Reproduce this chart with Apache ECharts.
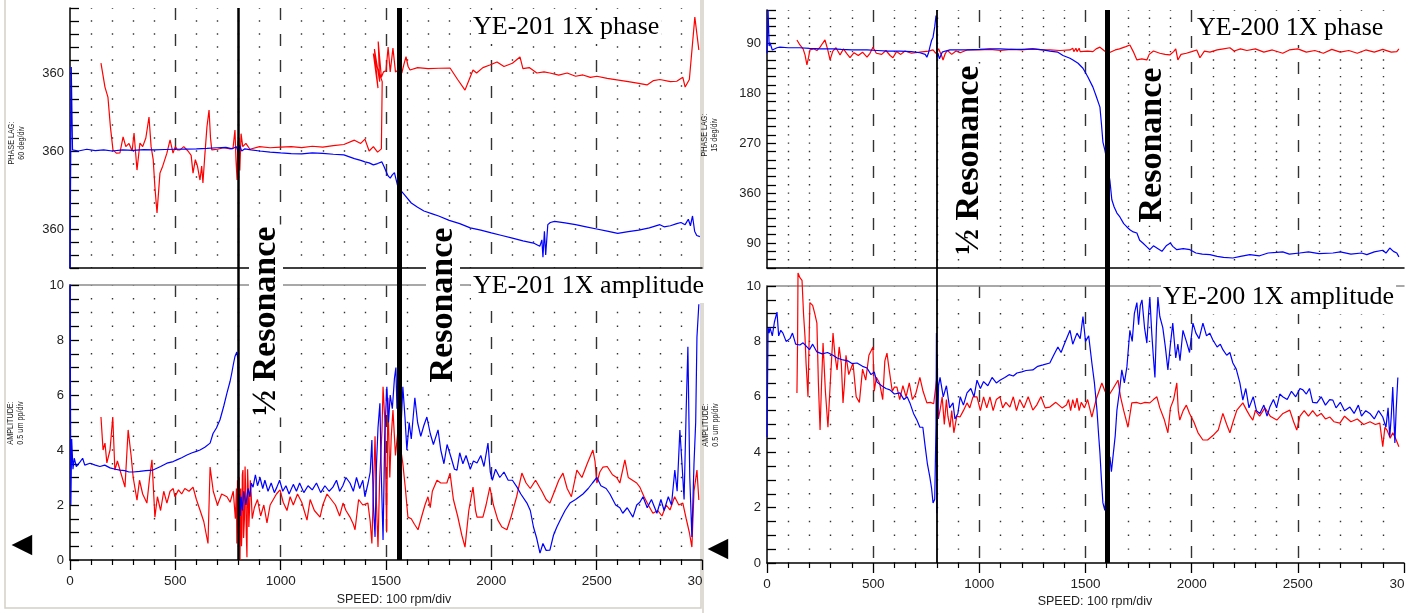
<!DOCTYPE html>
<html><head><meta charset="utf-8">
<script src="https://cdn.jsdelivr.net/npm/echarts@6/dist/echarts.min.js"></script>
<style>html,body{margin:0;padding:0;background:#fff}#c{width:1413px;height:613px}</style>
</head><body><div id="c"></div>
<script>
// ---------------- DATA ----------------
// speed axis (rpm)
const speedMin = 0, speedMax = 3000, speedStep = 500;
// resonance marker speeds
const resonanceLeft = [800, 1562];
const resonanceRight = [800, 1603];
// titles
const titleLeftPhase = 'YE-201 1X phase';
const titleLeftAmp = 'YE-201 1X amplitude';
const titleRightPhase = 'YE-200 1X phase';
const titleRightAmp = 'YE-200 1X amplitude';

// Left (YE-201) phase lag, degrees (unwrapped scale)
const leftPhaseBlue = [[0,0],[6,928],[12,545],[40,540],[80,548],[120,542],[160,545],[200,540],[250,545],[300,543],[350,546],[400,545],[450,547],[500,548],[550,549],[600,550],[650,552],[700,555],[740,557],[770,550],[790,560],[800,530],[805,565],[815,540],[830,550],[860,545],[900,540],[950,535],[1000,531],[1050,528],[1100,527],[1150,531],[1200,529],[1250,525],[1300,522],[1330,512],[1350,505],[1380,497],[1400,490],[1420,485],[1440,476],[1460,482],[1480,490],[1490,470],[1500,447],[1510,425],[1520,415],[1530,430],[1540,440],[1550,400],[1560,360],[1575,352],[1590,335],[1620,300],[1650,280],[1680,263],[1720,250],[1750,240],[1800,220],[1850,205],[1900,185],[1950,175],[2000,162],[2050,150],[2100,138],[2150,125],[2200,115],[2230,100],[2240,130],[2245,50],[2252,170],[2258,60],[2268,200],[2280,210],[2300,215],[2350,208],[2400,200],[2450,190],[2500,180],[2550,170],[2600,160],[2650,168],[2700,175],[2750,185],[2800,200],[2820,190],[2850,195],[2880,205],[2900,210],[2920,200],[2935,225],[2945,195],[2955,240],[2965,170],[2975,150],[2990,145]];
const leftPhaseRed = [[147,946],[166,835],[180,789],[192,650],[204,545],[220,530],[237,531],[252,605],[265,560],[280,575],[295,540],[304,623],[318,452],[332,577],[345,560],[360,600],[375,697],[385,560],[395,500],[403,374],[413,254],[427,438],[440,470],[450,500],[460,530],[475,591],[489,530],[500,560],[510,545],[522,545],[540,560],[560,540],[575,520],[584,438],[595,500],[605,470],[617,406],[625,470],[631,392],[640,520],[650,651],[660,729],[667,600],[673,545],[700,548],[730,555],[760,550],[774,554],[783,637],[788,500],[793,406],[797,580],[802,600],[806,450],[812,620],[820,560],[835,575],[854,548],[900,560],[950,555],[1000,558],[1050,560],[1100,556],[1150,562],[1200,558],[1250,565],[1300,570],[1350,590],[1380,575],[1400,595],[1420,540],[1440,560],[1460,535],[1478,550],[1482,860],[1450,950],[1462,830],[1440,990],[1455,880],[1445,1010],[1470,860],[1463,1045],[1478,880],[1488,905],[1500,910],[1510,1020],[1520,905],[1533,1015],[1545,905],[1560,915],[1575,900],[1585,940],[1595,975],[1605,930],[1614,914],[1650,925],[1700,920],[1750,922],[1804,923],[1840,870],[1875,821],[1895,870],[1913,914],[1930,900],[1960,925],[1993,937],[2027,951],[2060,930],[2100,945],[2136,974],[2150,920],[2180,925],[2216,900],[2250,905],[2278,900],[2320,890],[2360,900],[2400,885],[2435,891],[2470,880],[2501,885],[2550,875],[2596,868],[2650,860],[2700,852],[2739,845],[2770,865],[2800,870],[2850,860],[2880,862],[2909,880],[2920,835],[2928,830],[2940,870],[2966,1158],[2985,1006]];

// Left (YE-201) amplitude, um pp
const leftAmpBlue = [[0,11],[4,2],[8,4.4],[14,3.3],[20,3.7],[30,3.4],[47,3.56],[60,3.7],[70,3.45],[95,3.52],[120,3.45],[142,3.4],[165,3.45],[190,3.35],[215,3.3],[237,3.27],[260,3.25],[280,3.2],[300,3.2],[330,3.22],[360,3.25],[394,3.27],[430,3.4],[460,3.52],[490,3.58],[507,3.64],[530,3.72],[555,3.82],[580,3.9],[600,3.95],[617,4.0],[640,4.1],[665,4.25],[679,4.6],[695,4.8],[712,5.1],[730,5.6],[745,6.07],[760,6.5],[768,6.8],[775,7.1],[783,7.4],[792,7.56],[797,7.3],[799,5.5],[800,2.0],[802,1.2],[805,2.4],[808,1.6],[812,2.3],[818,1.8],[825,2.5],[835,2.0],[845,2.6],[854,2.3],[860,2.8],[869,2.65],[880,3.1],[890,2.7],[902,3.0],[915,2.6],[925,2.9],[940,2.5],[955,2.8],[970,2.45],[982,2.65],[995,2.9],[1010,2.5],[1025,2.7],[1040,2.4],[1060,2.75],[1075,2.5],[1090,2.8],[1110,2.45],[1130,2.7],[1150,2.55],[1170,2.8],[1190,2.45],[1210,2.7],[1230,2.5],[1248,2.65],[1265,2.9],[1280,2.5],[1295,2.7],[1310,3.0],[1329,2.8],[1345,2.5],[1360,3.0],[1375,2.6],[1390,2.9],[1400,2.3],[1415,2.8],[1425,3.2],[1433,4.36],[1440,2.0],[1448,0.84],[1455,3.5],[1462,4.8],[1471,5.7],[1478,3.0],[1486,0.73],[1494,4.5],[1504,6.3],[1512,5.0],[1520,6.0],[1530,5.5],[1540,6.6],[1547,7.0],[1552,5.5],[1560,6.1],[1570,4.6],[1580,6.3],[1590,5.2],[1599,4.0],[1610,5.0],[1620,4.4],[1637,5.9],[1650,5.0],[1665,4.5],[1680,4.9],[1694,5.2],[1710,4.6],[1725,4.2],[1747,4.73],[1760,4.0],[1775,3.5],[1790,4.2],[1810,3.7],[1825,3.3],[1837,3.27],[1850,3.9],[1865,3.5],[1880,3.8],[1900,3.3],[1915,3.6],[1932,3.53],[1950,3.8],[1965,3.4],[1984,4.25],[1995,3.2],[2005,2.9],[2020,3.3],[2040,3.0],[2060,3.2],[2080,2.9],[2100,2.9],[2122,2.65],[2140,2.4],[2169,2.07],[2185,1.8],[2200,1.2],[2215,0.8],[2231,0.25],[2245,0.6],[2260,0.35],[2278,0.36],[2295,0.9],[2311,1.2],[2330,1.5],[2350,1.8],[2373,2.07],[2400,2.2],[2435,2.4],[2460,2.6],[2480,2.8],[2501,3.0],[2520,2.7],[2545,2.6],[2563,2.4],[2590,2.0],[2610,1.9],[2624,1.7],[2645,1.9],[2672,1.56],[2690,2.0],[2705,2.1],[2720,2.3],[2740,1.9],[2760,2.2],[2786,1.7],[2805,2.2],[2820,1.8],[2840,2.3],[2855,2.0],[2871,3.27],[2882,2.5],[2895,4.73],[2905,3.5],[2915,2.2],[2925,5.5],[2933,7.75],[2942,3.0],[2952,0.84],[2962,3.5],[2970,5.0],[2976,8.1],[2985,9.3]];
const leftAmpRed = [[147,5.2],[157,4.0],[166,4.25],[175,3.53],[190,4.0],[203,5.2],[213,3.27],[225,3.6],[240,3.2],[261,2.65],[276,4.73],[290,3.8],[300,3.0],[318,2.18],[330,2.9],[345,2.4],[365,2.07],[378,3.0],[389,3.64],[403,1.56],[415,2.3],[430,1.8],[445,2.5],[460,2.07],[475,2.5],[490,2.6],[498,2.3],[515,2.55],[530,2.4],[545,2.6],[565,2.5],[584,2.65],[600,2.2],[617,1.82],[635,1.4],[655,0.6],[665,3.38],[680,2.5],[700,2.0],[720,2.4],[745,2.3],[760,2.1],[775,2.5],[785,1.5],[790,2.6],[792,0.6],[795,2.9],[797,2.4],[800,1.0],[803,3.0],[807,0],[810,2.6],[812,2.0],[814,0.5],[816,1.0],[818,3.1],[821,3.27],[824,0.8],[828,1.5],[831,3.4],[834,2.5],[837,0.9],[840,0.1],[843,3.3],[846,2.6],[849,1.2],[852,1.8],[856,2.9],[860,2.4],[865,1.5],[875,1.9],[890,2.2],[905,1.6],[920,2.0],[935,1.35],[950,2.0],[965,2.2],[980,2.4],[997,2.55],[1012,2.1],[1030,1.8],[1045,2.3],[1060,2.0],[1080,2.4],[1100,2.1],[1125,1.45],[1140,2.2],[1160,1.8],[1187,1.56],[1200,2.0],[1220,2.4],[1240,2.2],[1260,2.0],[1280,1.6],[1296,2.07],[1310,1.8],[1329,1.56],[1345,1.3],[1353,1.1],[1370,2.2],[1390,2.0],[1414,2.07],[1425,1.4],[1433,0.6],[1440,2.5],[1448,4.5],[1455,2.0],[1462,0.47],[1470,3.0],[1481,4.73],[1486,6.3],[1495,5.0],[1503,1.0],[1509,5.9],[1518,3.0],[1525,4.5],[1533,5.45],[1545,3.8],[1555,4.6],[1566,4.25],[1580,3.5],[1592,2.6],[1604,1.56],[1620,1.5],[1635,1.3],[1652,1.1],[1670,1.6],[1685,2.0],[1699,2.3],[1710,1.9],[1720,2.5],[1742,2.9],[1760,2.8],[1789,2.8],[1804,3.16],[1820,2.2],[1840,1.6],[1860,0.9],[1875,0.47],[1893,1.8],[1913,2.65],[1925,1.8],[1932,1.56],[1960,1.56],[1975,2.0],[1993,2.65],[2010,2.0],[2031,1.45],[2050,1.2],[2074,1.1],[2095,1.6],[2120,2.3],[2145,3.16],[2165,2.8],[2185,2.6],[2210,2.9],[2240,2.5],[2260,2.2],[2278,2.07],[2300,2.5],[2320,2.9],[2340,3.16],[2360,2.6],[2380,2.3],[2406,3.27],[2430,3.0],[2455,3.5],[2482,4.0],[2492,3.6],[2501,2.8],[2515,3.2],[2530,3.38],[2550,3.4],[2575,3.1],[2595,3.0],[2610,2.8],[2634,3.64],[2650,3.0],[2670,2.9],[2690,2.8],[2705,2.65],[2725,2.3],[2745,2.0],[2767,1.7],[2790,1.8],[2810,1.6],[2830,2.0],[2848,1.82],[2870,2.3],[2890,2.0],[2909,2.07],[2925,1.5],[2940,1.0],[2952,0.47],[2962,2.5],[2976,3.27],[2985,2.18]];

// Right (YE-200) phase lag, degrees (unwrapped, increasing downward)
const rightPhaseBlue = [[0,108],[5,30],[10,95],[14,89],[25,102],[47,98],[61,97],[100,98],[155,98],[200,99],[250,100],[311,100],[350,101],[400,102],[471,102],[520,103],[570,104],[626,104],[680,105],[720,107],[745,110],[753,115],[760,108],[767,97],[775,85],[782,79],[790,60],[796,40],[799,48],[800,115],[805,108],[812,118],[825,106],[840,104],[862,102],[900,102],[942,102],[1000,101],[1050,100],[1097,100],[1150,101],[1200,101],[1252,100],[1300,102],[1332,104],[1370,106],[1394,112],[1427,117],[1441,120],[1465,126],[1488,135],[1510,150],[1535,169],[1550,185],[1568,205],[1575,235],[1582,268],[1591,282],[1600,300],[1615,338],[1624,372],[1635,385],[1648,396],[1662,403],[1680,415],[1695,421],[1709,426],[1725,430],[1742,432],[1755,445],[1770,450],[1789,457],[1803,462],[1820,455],[1836,459],[1860,465],[1880,455],[1900,450],[1911,456],[1930,462],[1960,460],[1992,462],[2020,468],[2050,470],[2086,471],[2120,474],[2150,476],[2194,477],[2230,474],[2274,471],[2320,473],[2360,468],[2400,467],[2429,466],[2460,470],[2509,468],[2550,466],[2600,469],[2665,468],[2700,466],[2750,470],[2800,468],[2825,471],[2860,466],[2900,463],[2915,468],[2933,459],[2950,465],[2966,468],[2976,475]];
const rightPhaseRed = [[141,84],[155,93],[170,100],[179,111],[188,129],[196,115],[202,102],[220,100],[235,103],[250,97],[262,90],[273,84],[285,100],[297,120],[310,104],[325,98],[344,111],[360,100],[375,108],[391,116],[410,107],[430,112],[450,106],[471,115],[485,108],[499,97],[515,108],[540,110],[560,103],[580,112],[593,116],[610,105],[630,110],[650,104],[680,108],[720,106],[760,104],[782,102],[795,108],[808,100],[815,97],[822,112],[829,120],[840,108],[850,103],[870,110],[890,104],[910,107],[942,102],[1000,102],[1050,101],[1100,103],[1150,101],[1200,102],[1250,100],[1300,102],[1332,102],[1380,103],[1427,102],[1440,99],[1445,105],[1455,99],[1460,105],[1470,99],[1475,105],[1483,102],[1510,104],[1535,105],[1550,100],[1568,97],[1590,104],[1606,108],[1640,102],[1660,100],[1690,96],[1709,93],[1725,105],[1742,120],[1765,118],[1789,120],[1800,110],[1820,104],[1850,108],[1875,110],[1897,111],[1915,105],[1925,100],[1935,120],[1950,110],[1975,108],[2000,105],[2024,102],[2039,116],[2060,104],[2086,106],[2120,102],[2150,100],[2180,98],[2200,104],[2230,100],[2260,103],[2300,100],[2340,106],[2380,102],[2429,108],[2460,102],[2500,100],[2540,106],[2580,103],[2620,108],[2660,101],[2700,106],[2740,103],[2780,108],[2820,102],[2860,106],[2900,101],[2940,106],[2966,105],[2976,100]];

// Right (YE-200) amplitude, um pp
const rightAmpBlue = [[0,4.55],[5,8.5],[10,8.3],[14,8.5],[25,8.2],[35,8.7],[47,9.06],[55,8.2],[65,8.4],[75,8.3],[90,8.0],[108,8.1],[120,8.3],[135,7.9],[155,7.87],[170,7.95],[188,7.8],[200,7.7],[215,7.9],[235,7.62],[260,7.55],[285,7.6],[311,7.5],[330,7.4],[358,7.33],[380,7.3],[400,7.2],[424,7.22],[450,7.1],[471,7.04],[490,6.8],[505,6.9],[518,6.53],[540,6.4],[560,6.3],[579,6.25],[600,6.1],[626,6.14],[645,5.9],[660,6.0],[673,5.78],[690,5.4],[706,5.16],[720,4.9],[734,4.9],[745,4.2],[755,3.6],[767,3.1],[775,2.7],[782,2.17],[790,2.3],[796,5.0],[798,8.3],[800,1.8],[802,7.5],[805,5.2],[808,6.4],[815,6.7],[830,6.0],[845,6.4],[860,5.6],[876,5.78],[885,5.2],[899,5.4],[910,6.0],[925,5.7],[942,6.14],[960,6.3],[975,6.0],[989,6.6],[1005,6.3],[1020,6.55],[1040,6.4],[1060,6.7],[1080,6.5],[1097,6.6],[1120,6.7],[1140,6.8],[1160,6.75],[1177,6.86],[1200,6.9],[1220,6.95],[1252,6.97],[1275,7.1],[1300,7.15],[1332,7.22],[1350,7.5],[1370,7.8],[1385,7.6],[1400,7.9],[1427,8.4],[1440,7.9],[1460,8.3],[1475,8.1],[1488,8.9],[1500,8.0],[1515,8.2],[1530,7.22],[1542,6.5],[1554,5.52],[1562,4.6],[1568,3.97],[1575,3.0],[1582,2.17],[1591,1.9],[1600,2.8],[1608,3.4],[1615,3.83],[1622,3.3],[1629,3.36],[1640,4.6],[1648,5.52],[1660,6.2],[1671,6.97],[1683,6.5],[1695,7.08],[1709,8.4],[1720,8.0],[1730,9.0],[1742,9.4],[1750,8.6],[1758,9.3],[1766,9.5],[1778,8.5],[1789,7.94],[1797,9.0],[1803,9.6],[1812,8.3],[1820,7.4],[1827,6.7],[1834,8.5],[1841,9.6],[1850,8.9],[1864,8.5],[1876,7.8],[1888,6.97],[1900,7.9],[1911,8.66],[1925,7.4],[1935,7.9],[1945,7.3],[1959,8.4],[1975,8.0],[1990,7.6],[2006,8.66],[2020,8.3],[2035,8.1],[2053,8.66],[2070,8.2],[2085,8.3],[2100,8.05],[2120,7.8],[2135,7.9],[2147,7.7],[2165,7.5],[2180,7.6],[2194,7.22],[2210,7.0],[2227,6.5],[2241,5.88],[2255,6.3],[2270,5.6],[2290,6.0],[2305,5.5],[2321,5.4],[2340,5.7],[2355,5.3],[2368,5.63],[2385,5.9],[2400,5.6],[2415,6.1],[2429,6.0],[2450,5.9],[2470,6.2],[2490,6.0],[2510,6.3],[2524,6.25],[2540,6.1],[2555,6.3],[2570,5.8],[2590,5.78],[2610,6.0],[2630,5.7],[2650,5.9],[2665,5.88],[2680,5.6],[2700,5.8],[2720,5.5],[2745,5.63],[2765,5.4],[2785,5.7],[2800,5.3],[2820,5.5],[2839,5.4],[2860,5.2],[2880,5.5],[2900,5.27],[2915,4.9],[2925,5.6],[2933,4.55],[2940,5.3],[2947,6.35],[2957,4.33],[2963,5.5],[2971,6.7]];
const rightAmpRed = [[141,6.14],[144,8.0],[146,10.47],[155,10.3],[165,10.2],[172,9.0],[179,8.16],[184,7.2],[188,6.7],[193,6.0],[197,7.5],[202,9.4],[215,9.3],[225,9.0],[235,8.66],[242,6.5],[250,4.8],[257,6.5],[264,7.94],[275,6.2],[287,4.9],[298,6.5],[311,8.3],[320,7.5],[330,6.97],[340,7.8],[350,7.2],[358,5.78],[365,6.5],[372,7.5],[385,6.8],[405,7.22],[420,6.0],[435,5.8],[450,7.0],[465,6.6],[480,7.5],[499,7.8],[505,6.2],[515,6.7],[530,6.5],[545,5.9],[555,7.3],[565,7.58],[575,7.0],[590,6.2],[600,6.35],[612,6.35],[625,5.9],[640,6.4],[655,6.0],[670,6.5],[685,5.9],[700,6.1],[720,6.7],[735,6.2],[753,5.78],[770,5.8],[785,5.75],[800,6.7],[807,5.2],[815,5.52],[825,6.0],[835,5.0],[845,5.9],[852,5.3],[862,4.9],[870,5.5],[880,4.7],[894,5.3],[909,5.27],[925,5.5],[942,5.78],[955,5.6],[970,6.0],[989,6.0],[1005,5.5],[1020,6.0],[1035,5.6],[1050,6.0],[1065,5.5],[1080,5.9],[1097,6.0],[1110,5.6],[1125,5.8],[1144,5.63],[1160,6.0],[1175,5.5],[1190,5.9],[1210,5.6],[1230,6.0],[1252,5.52],[1270,5.7],[1290,6.0],[1310,5.6],[1332,5.63],[1360,5.8],[1390,5.6],[1410,5.7],[1420,5.9],[1430,5.5],[1440,5.9],[1450,5.6],[1460,5.95],[1470,5.5],[1480,5.8],[1495,5.6],[1510,5.9],[1530,5.27],[1550,5.9],[1577,6.5],[1592,6.2],[1606,6.0],[1630,6.3],[1653,6.6],[1665,6.0],[1680,5.5],[1700,4.9],[1718,5.78],[1740,5.8],[1760,5.75],[1780,5.8],[1803,5.78],[1820,5.9],[1836,6.0],[1850,5.6],[1870,5.2],[1888,4.7],[1900,5.6],[1915,5.9],[1930,6.5],[1937,5.5],[1944,5.16],[1960,5.5],[1975,5.7],[1990,5.4],[2010,5.1],[2030,4.7],[2053,4.44],[2075,4.44],[2100,4.6],[2125,4.8],[2147,5.4],[2165,5.0],[2180,4.7],[2195,5.1],[2213,5.52],[2241,5.78],[2260,5.5],[2275,5.3],[2288,5.16],[2300,5.5],[2320,5.3],[2345,5.6],[2370,5.3],[2401,5.16],[2430,5.4],[2462,5.52],[2480,5.1],[2495,4.8],[2510,5.3],[2530,5.5],[2550,5.3],[2570,5.5],[2590,5.3],[2610,5.4],[2630,5.2],[2651,5.27],[2670,5.1],[2698,5.05],[2720,5.3],[2750,5.1],[2780,5.2],[2810,5.0],[2840,5.1],[2865,5.0],[2886,5.05],[2900,4.2],[2910,4.9],[2920,4.8],[2935,4.5],[2947,4.7],[2960,4.5],[2976,4.2]];

// ---------------- CHART ----------------
const chart = echarts.init(document.getElementById('c'), null, {renderer: 'canvas'});
const SANS = '"Liberation Sans", Arial, sans-serif';
const SERIF = '"Liberation Serif", "Times New Roman", serif';
const BLUE = '#0000ff', RED = '#ff0000';

function dotLine(period) {
  return { show: true, lineStyle: { color: '#333', width: 1.4, type: [1.4, period - 1.4], dashOffset: 0.7 } };
}
const dashedMajor = { show: true, showMinLine: false, showMaxLine: false,
  lineStyle: { color: '#333', width: 1.4, type: [12, 14] } };

function phaseX(grid, period) {
  return { type: 'value', gridIndex: grid, min: speedMin, max: speedMax, interval: speedStep,
    axisLine: { show: true, onZero: false, lineStyle: { color: '#000', width: 1.5 } },
    axisTick: { show: false }, axisLabel: { show: false },
    splitLine: dashedMajor, minorTick: { show: false, splitNumber: 5 }, minorSplitLine: dotLine(period) };
}
function ampX(grid, period, padLeft, gap) {
  return { type: 'value', gridIndex: grid, min: speedMin, max: speedMax, interval: speedStep,
    name: 'SPEED: 100 rpm/div', nameLocation: 'middle', nameGap: gap,
    nameTextStyle: { fontFamily: SANS, fontSize: 12.5, color: '#222', padding: [0, 0, 0, padLeft] },
    axisLine: { show: true, onZero: false, lineStyle: { color: '#000', width: 1.5 } },
    axisTick: { show: true, inside: false, length: 10, lineStyle: { color: '#000', width: 1.3 } },
    minorTick: { show: true, splitNumber: 5, length: 5, lineStyle: { color: '#000', width: 1.2 } },
    axisLabel: { show: true, margin: 14, fontFamily: SANS, fontSize: 13.5, color: '#222',
      formatter: v => v === speedMax ? '{c|30}' : String(v),
      rich: { c: { fontFamily: SANS, fontSize: 13.5, color: '#222', padding: [0, 14, 0, 0] } } },
    splitLine: dashedMajor, minorSplitLine: dotLine(period) };
}
function topLine(grid) {
  return { type: 'value', gridIndex: grid, position: 'top', min: speedMin, max: speedMax,
    axisLine: { show: true, onZero: false, lineStyle: { color: '#8c8c8c', width: 1.5 } },
    axisTick: { show: false }, axisLabel: { show: false }, splitLine: { show: false } };
}
function hiddenX(grid) {
  return { type: 'value', gridIndex: grid, min: speedMin, max: speedMax, show: false };
}
const yTickStyle = { show: true, inside: true, length: 9, lineStyle: { color: '#000', width: 1.3 } };
const yLabelStyle = { fontFamily: SANS, fontSize: 13, color: '#222', margin: 6 };

function line(data, color, xi, yi, extra) {
  return Object.assign({ type: 'line', data: data, xAxisIndex: xi, yAxisIndex: yi, symbol: 'none',
    lineStyle: { color: color, width: 1.2 }, itemStyle: { color: color }, animation: false, z: 3 }, extra || {});
}
function resonance(xs, xi, yi, widths) {
  return { type: 'line', data: [], xAxisIndex: xi, yAxisIndex: yi, symbol: 'none', z: 6,
    markLine: { silent: true, symbol: ['none', 'none'], animation: false, label: { show: false },
      data: xs.map((x, i) => ({ xAxis: x, lineStyle: { color: '#000', width: widths[i], type: 'solid' } })) } };
}

function vText(x, y, text) {
  return { type: 'text', x: x, y: y, rotation: Math.PI / 2, z: 50,
    style: { text: text, fontFamily: SERIF, fontSize: 34, fontWeight: 'bold', fill: '#000',
      align: 'center', verticalAlign: 'middle', backgroundColor: '#fff', padding: [0, 2, 0, 2] } };
}
function title(x, y, text) {
  return { type: 'text', x: x, y: y, z: 50,
    style: { text: text, fontFamily: SERIF, fontSize: 26, fill: '#000', align: 'left', verticalAlign: 'middle',
      backgroundColor: '#fff', padding: [5, 2, 3, 2] } };
}
function axisName(x, y, text) {
  return { type: 'text', x: x, y: y, rotation: Math.PI / 2, scaleX: 0.85, z: 50,
    style: { text: text, fontFamily: SANS, fontSize: 8.5, lineHeight: 10, fill: '#222', align: 'center', verticalAlign: 'middle' } };
}
function arrow(x, y) {
  return { type: 'text', x: x, y: y, z: 50,
    style: { text: '\u25C0', fontFamily: '"DejaVu Sans", sans-serif', fontSize: 27, fill: '#000', align: 'center', verticalAlign: 'middle' } };
}

const option = {
  animation: false,
  backgroundColor: '#fff',
  grid: [
    { left: 70, top: 8, width: 632, height: 260 },
    { left: 70, top: 285, width: 632, height: 275 },
    { left: 70, top: 8, width: 632, height: 552 },
    { left: 767, top: 10, width: 637, height: 258 },
    { left: 767, top: 286, width: 637, height: 277 },
    { left: 767, top: 10, width: 637, height: 553 }
  ],
  xAxis: [
    phaseX(0, 13),
    ampX(1, 13.75, 16, 33),
    topLine(1),
    hiddenX(2),
    phaseX(3, 258 / 31),
    ampX(4, 13.85, 19, 32),
    topLine(4),
    hiddenX(5)
  ],
  yAxis: [
    { type: 'value', gridIndex: 0, min: 0, max: 1200, interval: 60,
      axisLine: { show: true, lineStyle: { color: '#000', width: 1.5 } }, axisTick: yTickStyle,
      axisLabel: Object.assign({ formatter: v => (v % 360 === 180 ? '360' : '') }, yLabelStyle),
      splitLine: { show: false } },
    { type: 'value', gridIndex: 1, min: 0, max: 10, interval: 2,
      axisLine: { show: true, lineStyle: { color: '#000', width: 1.5 } }, axisTick: yTickStyle,
      minorTick: { show: true, splitNumber: 4, length: 9, lineStyle: { color: '#000', width: 1.3 } },
      axisLabel: yLabelStyle, splitLine: { show: false } },
    { type: 'value', gridIndex: 2, min: 0, max: 1, show: false },
    { type: 'value', gridIndex: 3, min: 30, max: 495, interval: 15, inverse: true,
      axisLine: { show: true, lineStyle: { color: '#000', width: 1.5 } }, axisTick: yTickStyle,
      axisLabel: Object.assign({ formatter: v => (v % 90 === 0 ? String(v > 360 ? v - 360 : v) : '') }, yLabelStyle),
      splitLine: { show: false } },
    { type: 'value', gridIndex: 4, min: 0, max: 10, interval: 2,
      axisLine: { show: true, lineStyle: { color: '#000', width: 1.5 } }, axisTick: yTickStyle,
      minorTick: { show: true, splitNumber: 4, length: 9, lineStyle: { color: '#000', width: 1.3 } },
      axisLabel: yLabelStyle, splitLine: { show: false } },
    { type: 'value', gridIndex: 5, min: 0, max: 1, show: false }
  ],
  series: [
    line(leftPhaseRed, RED, 0, 0),
    line(leftPhaseBlue, BLUE, 0, 0),
    line(leftAmpRed, RED, 1, 1),
    line(leftAmpBlue, BLUE, 1, 1),
    resonance(resonanceLeft, 3, 2, [2.5, 5]),
    line(rightPhaseRed, RED, 4, 3),
    line(rightPhaseBlue, BLUE, 4, 3),
    line(rightAmpRed, RED, 5, 4, { clip: false }),
    line(rightAmpBlue, BLUE, 5, 4),
    resonance(resonanceRight, 7, 5, [1.8, 5])
  ],
  graphic: [
    { type: 'rect', z: 0, shape: { x: 5, y: -5, width: 696, height: 613 }, style: { fill: 'none', stroke: '#d4d0c8', lineWidth: 1.5 } },
    { type: 'rect', z: 0, shape: { x: 703, y: -5, width: 720, height: 630 }, style: { fill: 'none', stroke: '#d4d0c8', lineWidth: 1.5 } },
    title(471, 27, titleLeftPhase),
    title(471, 286, titleLeftAmp),
    title(1195, 28, titleRightPhase),
    title(1161, 297, titleRightAmp),
    vText(266, 321, '\u00BD Resonance'),
    vText(443, 305, 'Resonance'),
    vText(969, 160, '\u00BD Resonance'),
    vText(1152, 145, 'Resonance'),
    axisName(17, 143, 'PHASE LAG:\n60 deg/div'),
    axisName(16, 423, 'AMPLITUDE:\n0.5 um pp/div'),
    axisName(710, 135, 'PHASE LAG:\n15 deg/div'),
    axisName(711, 425, 'AMPLITUDE:\n0.5 um pp/div'),
    arrow(22, 545),
    arrow(718, 549)
  ]
};
chart.setOption(option);
</script>
</body></html>
